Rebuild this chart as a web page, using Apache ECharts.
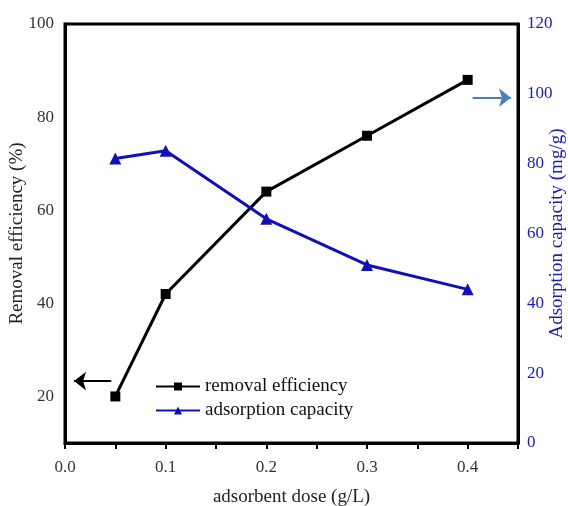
<!DOCTYPE html>
<html>
<head>
<meta charset="utf-8">
<script src="https://cdn.jsdelivr.net/npm/echarts@6/dist/echarts.min.js"></script>
<style>
  html, body { margin: 0; padding: 0; background: #fff; }
  #chart { width: 568px; height: 506px; }
</style>
</head>
<body>
<div id="chart"></div>
<script>
const doses = [0.05, 0.1, 0.2, 0.3, 0.4];
const removalEfficiency = [20, 42, 64, 76, 88];
const adsorptionCapacity = [81.5, 83.7, 64.2, 51, 44];
const leftTicks = [20, 40, 60, 80, 100];

const font = "Liberation Serif";
const blue = "#1c1cb0";

const chart = echarts.init(document.getElementById("chart"));
chart.setOption({
  animation: false,
  textStyle: { fontFamily: font },
  grid: {
    left: 65, right: 50, top: 24, bottom: 63,
    outerBoundsMode: "none",
    show: true, borderColor: "#000", borderWidth: 3
  },
  legend: {
    left: 150, top: 372, orient: "vertical", itemGap: 5,
    itemWidth: 44, itemHeight: 10,
    textStyle: { fontFamily: font, fontSize: 19, color: "#111" },
    data: ["removal efficiency", "adsorption capacity"]
  },
  xAxis: {
    type: "value", min: 0, max: 0.45, interval: 0.1,
    name: "adsorbent dose (g/L)", nameLocation: "middle", nameGap: 45,
    nameMoveOverlap: false,
    nameTextStyle: { fontFamily: font, fontSize: 19, color: "#222" },
    axisLine: { lineStyle: { color: "#000", width: 3 } },
    axisTick: { show: true, length: 6, lineStyle: { color: "#000", width: 2 } },
    minorTick: { show: true, splitNumber: 2, length: 6, lineStyle: { color: "#000", width: 2 } },
    splitLine: { show: false },
    axisLabel: {
      fontFamily: font, fontSize: 17, color: "#333", margin: 16,
      formatter: v => v.toFixed(1),
      showMaxLabel: false
    }
  },
  yAxis: [
    {
      type: "value", min: 10, max: 100,
      name: "Removal efficiency (%)", nameLocation: "middle", nameGap: 38,
      nameMoveOverlap: false,
      nameTextStyle: { fontFamily: font, fontSize: 19, color: "#222" },
      axisLine: { show: true, lineStyle: { color: "#000", width: 3 } },
      axisTick: { show: false },
      splitLine: { show: false },
      axisLabel: {
        fontFamily: font, fontSize: 17, color: "#333", margin: 11,
        customValues: leftTicks
      }
    },
    {
      type: "value", min: 0, max: 120, interval: 20, position: "right",
      name: "Adsorption capacity (mg/g)", nameLocation: "middle", nameGap: 30,
      nameRotate: 90, nameMoveOverlap: false,
      nameTextStyle: { fontFamily: font, fontSize: 19, color: blue },
      axisLine: { show: true, lineStyle: { color: "#000", width: 3 } },
      axisTick: { show: false },
      splitLine: { show: false },
      axisLabel: { fontFamily: font, fontSize: 17, color: blue, margin: 9 }
    }
  ],
  series: [
    {
      name: "removal efficiency", type: "line", yAxisIndex: 0,
      data: doses.map((d, i) => [d, removalEfficiency[i]]),
      symbol: "rect", symbolSize: 10,
      lineStyle: { color: "#000", width: 3 },
      itemStyle: { color: "#000" },
      markLine: {
        silent: true, symbol: ["none", "arrow"], symbolSize: [14, 12],
        label: { show: false },
        lineStyle: { color: "#000", width: 2, type: "solid" },
        data: [[{ coord: [0.046, 23.3] }, { coord: [0.009, 23.3] }]]
      }
    },
    {
      name: "adsorption capacity", type: "line", yAxisIndex: 1,
      data: doses.map((d, i) => [d, adsorptionCapacity[i]]),
      symbol: "triangle", symbolSize: 12,
      lineStyle: { color: "#1010b8", width: 3 },
      itemStyle: { color: "#1010b8" },
      markLine: {
        silent: true, symbol: ["none", "arrow"], symbolSize: [14, 12],
        label: { show: false },
        lineStyle: { color: "#4a7fc0", width: 2, type: "solid" },
        data: [[{ coord: [0.405, 98.9] }, { coord: [0.443, 98.9] }]]
      }
    }
  ]
});
</script>
</body>
</html>
